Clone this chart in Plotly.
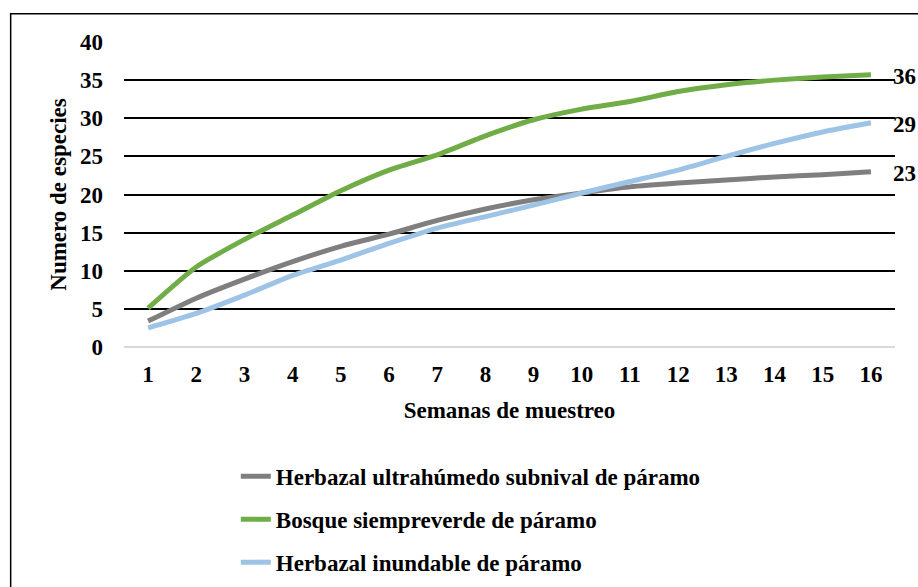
import plotly.graph_objects as go

semanas = list(range(1, 17))
herbazal_ultrahumedo = [3.4, 6.4, 8.9, 11.2, 13.2, 14.8, 16.6, 18.1, 19.3, 20.2, 21.0, 21.5, 21.9, 22.3, 22.6, 23.0]
bosque_siempreverde = [5.1, 10.5, 14.1, 17.3, 20.5, 23.2, 25.2, 27.7, 29.8, 31.2, 32.2, 33.5, 34.4, 35.0, 35.4, 35.7]
herbazal_inundable = [2.5, 4.4, 6.8, 9.4, 11.4, 13.6, 15.6, 17.1, 18.6, 20.2, 21.7, 23.2, 25.0, 26.7, 28.2, 29.4]

nombres = ["Herbazal ultrahúmedo subnival de páramo",
           "Bosque siempreverde de páramo",
           "Herbazal inundable de páramo"]
series = [herbazal_ultrahumedo, bosque_siempreverde, herbazal_inundable]
colores = ["#7f7f7f", "#70ad47", "#9dc3e6"]

FONT = dict(family="Liberation Serif", color="black", weight="bold")
FS = 23

fig = go.Figure()
for i, (nombre, vals, col) in enumerate(zip(nombres, series, colores)):
    fig.add_trace(go.Scatter(
        x=semanas, y=vals, name=nombre, mode="lines",
        line=dict(color=col, width=5, shape="spline", smoothing=0.6),
        legendgroup=str(i),
    ))
    # etiqueta del valor final
    fig.add_annotation(x=semanas[-1], y=vals[-1], text=str(round(vals[-1])),
                       showarrow=False, xanchor="left", xshift=20, yshift=-2,
                       font=dict(FONT, size=FS))

# marco alrededor del grafico
fig.add_shape(type="rect", xref="paper", yref="paper",
              x0=-0.147, x1=1.05, y0=-0.95, y1=1.093,
              line=dict(color="black", width=1.5), layer="above")

fig.update_layout(
    width=918, height=587,
    margin=dict(l=124, r=23, t=42, b=240, autoexpand=False),
    paper_bgcolor="white", plot_bgcolor="white",
    font=dict(FONT, size=FS),
    showlegend=True,
    legend=dict(x=0.145, y=0.225, xanchor="left", yanchor="top",
                yref="container",
                traceorder="grouped", tracegroupgap=10,
                font=dict(FONT, size=FS), bgcolor="rgba(0,0,0,0)"),
    xaxis=dict(range=[0.5, 16.5], tickmode="array", tickvals=semanas,
               showgrid=False, zeroline=False, showline=False,
               ticks="", ticklabelstandoff=11, automargin=False,
               title=dict(text="Semanas de muestreo", standoff=15,
                          font=dict(FONT, size=FS))),
    yaxis=dict(range=[0, 40], dtick=5, showgrid=True, gridcolor="black",
               gridwidth=1.5, zeroline=True, zerolinecolor="#d9d9d9",
               zerolinewidth=2, showline=False, ticks="",
               ticklabelstandoff=20, automargin=False,
               title=dict(text="Numero de especies", standoff=6,
                          font=dict(FONT, size=FS))),
)

fig.write_html("out.html", config={"displayModeBar": False},
               post_script="document.body.style.margin='0px';")
